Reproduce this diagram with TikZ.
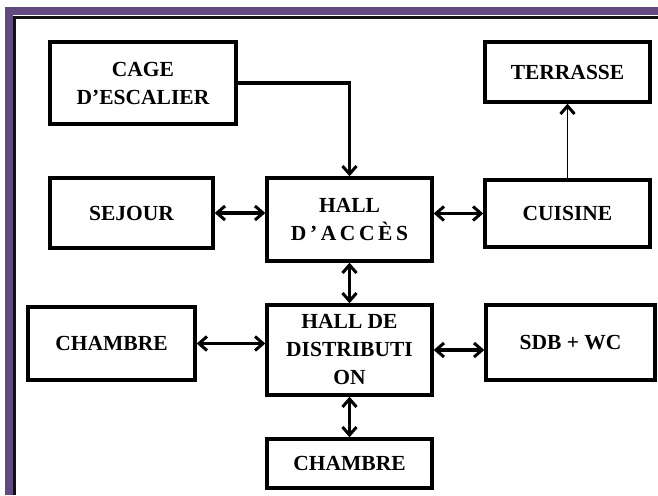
\documentclass[tikz,border=0pt]{standalone}
\usepackage{fontspec}
\setmainfont{Liberation Serif}
\usepackage{tikz}
\usetikzlibrary{arrows.meta}
\definecolor{framepurple}{HTML}{604A80}
\definecolor{frameline}{HTML}{111111}

\begin{document}
\begin{tikzpicture}[x=1pt, y=-1pt,
    piece/.style={draw, line width=3.4pt, align=center, inner sep=0pt,
      font=\bfseries\fontsize{21.5}{28}\selectfont},
    link/.style={line width=3.4pt, {Straight Barb[length=8pt,width=14pt,line width=3pt]}-{Straight Barb[length=8pt,width=14pt,line width=3pt]}},
    oneway/.style={line width=3.4pt, -{Straight Barb[length=8pt,width=14pt,line width=3pt]}}]
  \useasboundingbox (0,0) rectangle (658,495);
  % frame
  \fill[framepurple] (5,7) rectangle (658,15);
  \fill[framepurple] (5,7) rectangle (13,495);
  \fill[frameline] (13,16) rectangle (658,19);
  \fill[frameline] (13,16) rectangle (16,495);

  % rooms
  \node[piece, minimum width=186pt, minimum height=82pt] (cage) at (143,83)
    {CAGE\\D’ESCALIER};
  \node[piece, minimum width=165pt, minimum height=60pt] (terrasse) at (567.5,72)
    {TERRASSE};
  \node[piece, minimum width=163pt, minimum height=70pt] (sejour) at (131.5,213)
    {SEJOUR};
  \node[piece, minimum width=165pt, minimum height=83pt] (hallacces) at (349.5,219.5)
    {HALL\\D\,’\,A\,C\,C\,È\,S};
  \node[piece, minimum width=165pt, minimum height=67pt] (cuisine) at (567.5,213.5)
    {CUISINE};
  \node[piece, minimum width=167pt, minimum height=73pt] (chambrew) at (111.5,343.5)
    {CHAMBRE};
  \node[piece, minimum width=165pt, minimum height=90pt] (halldistri) at (349.5,350)
    {HALL DE\\DISTRIBUTI\\ON};
  \node[piece, minimum width=169pt, minimum height=75pt] (sdbwc) at (570.5,342.5)
    {SDB + WC};
  \node[piece, minimum width=165pt, minimum height=49pt] (chambres) at (349.5,463.5)
    {CHAMBRE};

  % links
  \draw[oneway] (cage.east) -| (hallacces.north);
  \draw[oneway, line width=1.8pt] (cuisine.north) -- (terrasse.south);
  \draw[link] (sejour.east) -- (sejour.east -| hallacces.west);
  \draw[link] (cuisine.west -| hallacces.east) -- (cuisine.west);
  \draw[link] (hallacces.south) -- (halldistri.north);
  \draw[link] (chambrew.east) -- (chambrew.east -| halldistri.west);
  \draw[link] (halldistri.east) -- (halldistri.east -| sdbwc.west);
  \draw[link] (halldistri.south) -- (chambres.north);
\end{tikzpicture}
\end{document}
